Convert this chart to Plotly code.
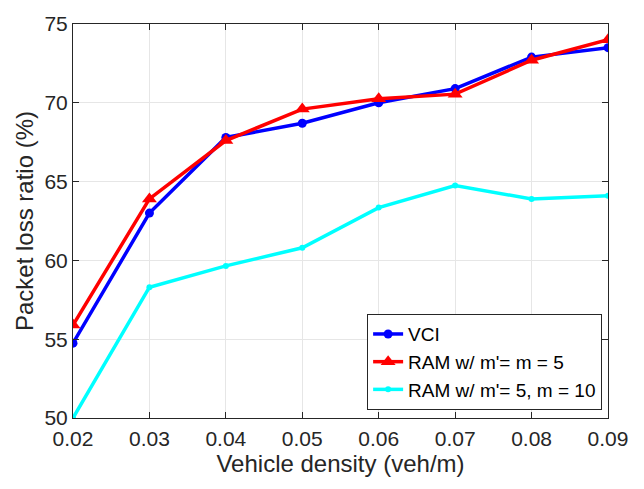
import plotly.graph_objects as go

# Vehicle density (veh/m)
density = [0.02, 0.03, 0.04, 0.05, 0.06, 0.07, 0.08, 0.09]

# Packet loss ratio (%) per scheme
vci = [54.75, 63.0, 67.8, 68.7, 70.0, 70.9, 72.9, 73.5]
ram_equal = [55.9, 63.9, 67.6, 69.6, 70.25, 70.55, 72.7, 74.0]
ram_m10 = [50.0, 58.3, 59.65, 60.8, 63.35, 64.75, 63.9, 64.1]

x_ticks = [0.02, 0.03, 0.04, 0.05, 0.06, 0.07, 0.08, 0.09]
y_ticks = [50, 55, 60, 65, 70, 75]

FONT = "Liberation Sans, Arial, sans-serif"

fig = go.Figure()
fig.add_trace(go.Scatter(
    x=density, y=vci, name="VCI", mode="lines+markers",
    line=dict(color="#0000ff", width=3.5),
    marker=dict(symbol="circle", size=9, color="#0000ff"),
))
fig.add_trace(go.Scatter(
    x=density, y=ram_equal, name="RAM w/ m'= m = 5", mode="lines+markers",
    line=dict(color="#ff0000", width=3.5),
    marker=dict(symbol="triangle-up", size=13, color="#ff0000"),
))
fig.add_trace(go.Scatter(
    x=density, y=ram_m10, name="RAM w/ m'= 5, m = 10", mode="lines+markers",
    line=dict(color="#00ffff", width=3.5),
    marker=dict(symbol="circle", size=6, color="#00ffff"),
))

axis_common = dict(
    showline=True, linecolor="#262626", linewidth=1, mirror="ticks",
    ticks="inside", ticklen=6, tickcolor="#262626",
    showgrid=True, gridcolor="#e6e6e6", gridwidth=1,
    zeroline=False,
    tickfont=dict(family=FONT, size=21, color="#262626"),
)

fig.update_layout(
    width=644, height=489,
    margin=dict(l=73, r=36, t=17, b=71),
    paper_bgcolor="white", plot_bgcolor="white",
    font=dict(family=FONT, color="#262626"),
    xaxis=dict(
        range=[0.02, 0.09], tickvals=x_ticks,
        ticktext=[f"{v:.2f}" for v in x_ticks],
        ticklabelstandoff=2,
        title=dict(text="Vehicle density (veh/m)",
                   font=dict(family=FONT, size=24, color="#262626"), standoff=4),
        **axis_common,
    ),
    yaxis=dict(
        range=[50, 75], tickvals=y_ticks,
        title=dict(text="Packet loss ratio (%)",
                   font=dict(family=FONT, size=24, color="#262626"), standoff=4),
        **axis_common,
    ),
    legend=dict(
        x=0.989, y=0.02, xanchor="right", yanchor="bottom",
        bgcolor="white", bordercolor="#262626", borderwidth=1,
        font=dict(family=FONT, size=19, color="#000000"),
        tracegroupgap=0,
    ),
    showlegend=True,
)

fig.write_html("out.html")
